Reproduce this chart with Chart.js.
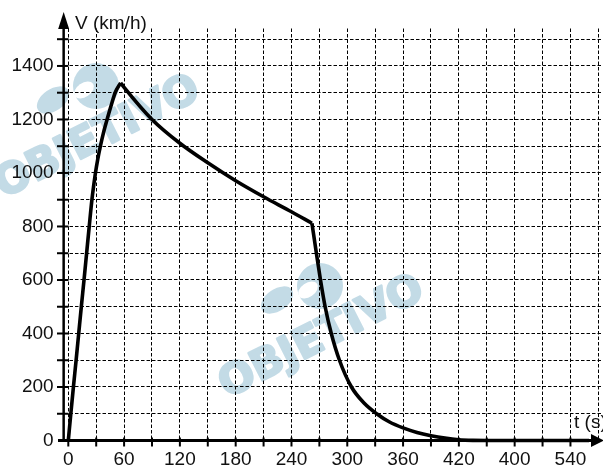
<!DOCTYPE html>
<html><head><meta charset="utf-8">
<script src="https://cdn.jsdelivr.net/npm/chart.js@4"></script>
<style>html,body{margin:0;padding:0;background:#fff;}#wrap{width:603px;height:470px;position:relative}</style>
</head><body><div id="wrap"><canvas id="c"></canvas></div>
<script>
// ---- data ----
const ascentT = [0, 2.7, 5.5, 8.4, 11.2, 14.0, 16.9, 19.7, 22.5, 25.4, 27.2, 29.2, 31.6, 34.5, 37.8, 41.7, 45.9, 50.4, 56.3];
const ascentV = [0, 100, 200, 300, 400, 500, 600, 700, 800, 900, 950, 1000, 1050, 1100, 1150, 1200, 1250, 1300, 1337];
const coastT = [56.3, 60, 90, 120, 150, 180, 210, 240, 262];
const coastV = [1337, 1320, 1200, 1111, 1038, 971, 911, 855, 812];
const descentT = [262, 266.8, 271.2, 276.2, 282.8, 291.6, 304.5, 318, 331.6, 345, 360, 375, 390, 405, 420, 435, 450, 560];
const descentV = [812, 700, 600, 500, 400, 300, 200, 140, 100, 70, 47, 30, 18, 9, 3, 0.5, 0, 0];

const xTickValues = [0,30,60,90,120,150,180,210,240,270,300,330,360,390,420,450,480,510,540,570];
const xTickLabels = ['0','60','120','180','240','300','360','420','400','540'];
const yTickLabels = ['0','200','400','600','800','1000','1200','1400'];
const yTitle = 'V (km/h)';
const xTitle = 't (s)';
const watermarkText = 'OBJETIVO';

const FONT = '"Liberation Sans", Arial, sans-serif';
const pts = (ts, vs) => ts.map((t, i) => ({x: t, y: vs[i]}));
const lineDs = (ts, vs) => ({
  data: pts(ts, vs), borderColor: '#000', borderWidth: 3.6, pointRadius: 0,
  cubicInterpolationMode: 'monotone', fill: false, clip: false
});

const decor = {
  id: 'decor',
  beforeDraw(chart) {
    const ctx = chart.ctx;
    const marks = [{cx: 98, cy: 138}, {cx: 322, cy: 338}];
    ctx.save();
    ctx.fillStyle = '#c3dbe6';
    ctx.strokeStyle = '#c3dbe6';
    marks.forEach(m => {
      ctx.save();
      ctx.translate(m.cx, m.cy);
      ctx.rotate(-27 * Math.PI / 180);
      ctx.font = 'bold 42px "DejaVu Sans", sans-serif';
      ctx.textAlign = 'center';
      ctx.textBaseline = 'middle';
      ctx.lineWidth = 2.5;
      ctx.lineJoin = 'round';
      ctx.fillText(watermarkText, 0, 0);
      ctx.strokeText(watermarkText, 0, 0);
      ctx.restore();
      ctx.beginPath();
      ctx.arc(m.cx - 2, m.cy - 52, 23, 0, Math.PI * 2);
      ctx.fill();
      ctx.beginPath();
      ctx.ellipse(m.cx - 45, m.cy - 38, 18, 11, -0.6, 0, Math.PI * 2);
      ctx.fill();
      ctx.save();
      ctx.fillStyle = '#ffffff';
      ctx.beginPath();
      ctx.ellipse(m.cx - 14, m.cy - 48, 11, 7, -0.6, 0, Math.PI * 2);
      ctx.fill();
      ctx.restore();
    });
    ctx.restore();
  },
  afterDraw(chart) {
    const {ctx, chartArea: a, scales: {x, y}} = chart;
    const y0 = y.getPixelForValue(0);
    const ax = a.left;
    ctx.save();
    ctx.strokeStyle = '#000';
    ctx.fillStyle = '#000';
    // y axis
    ctx.lineWidth = 2.5;
    ctx.beginPath(); ctx.moveTo(ax, y0 + 1); ctx.lineTo(ax, 26); ctx.stroke();
    ctx.beginPath(); ctx.moveTo(ax, 12); ctx.lineTo(ax - 5.5, 29); ctx.lineTo(ax + 5.5, 29); ctx.closePath(); ctx.fill();
    // x axis
    ctx.lineWidth = 3;
    ctx.beginPath(); ctx.moveTo(58, y0); ctx.lineTo(594, y0); ctx.stroke();
    ctx.beginPath(); ctx.moveTo(604, y0); ctx.lineTo(591, y0 - 6.5); ctx.lineTo(591, y0 + 6.5); ctx.closePath(); ctx.fill();
    // tick marks
    ctx.lineWidth = 2;
    y.ticks.forEach(t => {
      if (t.value <= 0) return;
      const py = y.getPixelForValue(t.value);
      ctx.beginPath(); ctx.moveTo(57, py); ctx.lineTo(68.5, py); ctx.stroke();
    });
    x.ticks.forEach(t => {
      if (t.value > 540) return;
      const px = x.getPixelForValue(t.value);
      ctx.beginPath(); ctx.moveTo(px, y0 - 3); ctx.lineTo(px, y0 + 6); ctx.stroke();
    });
    // titles
    ctx.font = '19px ' + FONT;
    ctx.fillStyle = '#111';
    ctx.textBaseline = 'alphabetic';
    ctx.textAlign = 'left';
    ctx.fillText(yTitle, 75, 29);
    ctx.fillText(xTitle, 574, 428);
    ctx.restore();
  }
};

new Chart(document.getElementById('c'), {
  type: 'line',
  data: { datasets: [lineDs(ascentT, ascentV), lineDs(coastT, coastV), lineDs(descentT, descentV)] },
  options: {
    responsive: true, maintainAspectRatio: false, animation: false,
    layout: { padding: { top: 28.5, right: 0, bottom: 0, left: 0 } },
    plugins: { legend: { display: false }, tooltip: { enabled: false } },
    scales: {
      x: {
        type: 'linear', min: -5, max: 575,
        afterBuildTicks: s => { s.ticks = xTickValues.map(v => ({value: v})); },
        afterFit: s => { s.height = 29.5; s.paddingLeft = 0; s.paddingRight = 0; },
        grid: { color: '#000', lineWidth: 1, drawTicks: false },
        border: { display: false, dash: [3.5, 2] },
        ticks: {
          autoSkip: false, maxRotation: 0, padding: 8, color: '#111',
          font: { family: FONT, size: 19 },
          callback: v => (v % 60 === 0 && v / 60 < xTickLabels.length) ? xTickLabels[v / 60] : ''
        }
      },
      y: {
        type: 'linear', min: 0, max: 1540,
        afterFit: s => { s.width = 63.65; },
        grid: { color: '#000', lineWidth: 1, drawTicks: false },
        border: { display: false, dash: [3.5, 2] },
        ticks: {
          stepSize: 100, includeBounds: false, autoSkip: false, padding: 10, color: '#111',
          font: { family: FONT, size: 19 },
          callback: v => (v % 200 === 0 && v / 200 < yTickLabels.length) ? yTickLabels[v / 200] : ''
        }
      }
    }
  },
  plugins: [decor]
});
</script>
</body></html>
